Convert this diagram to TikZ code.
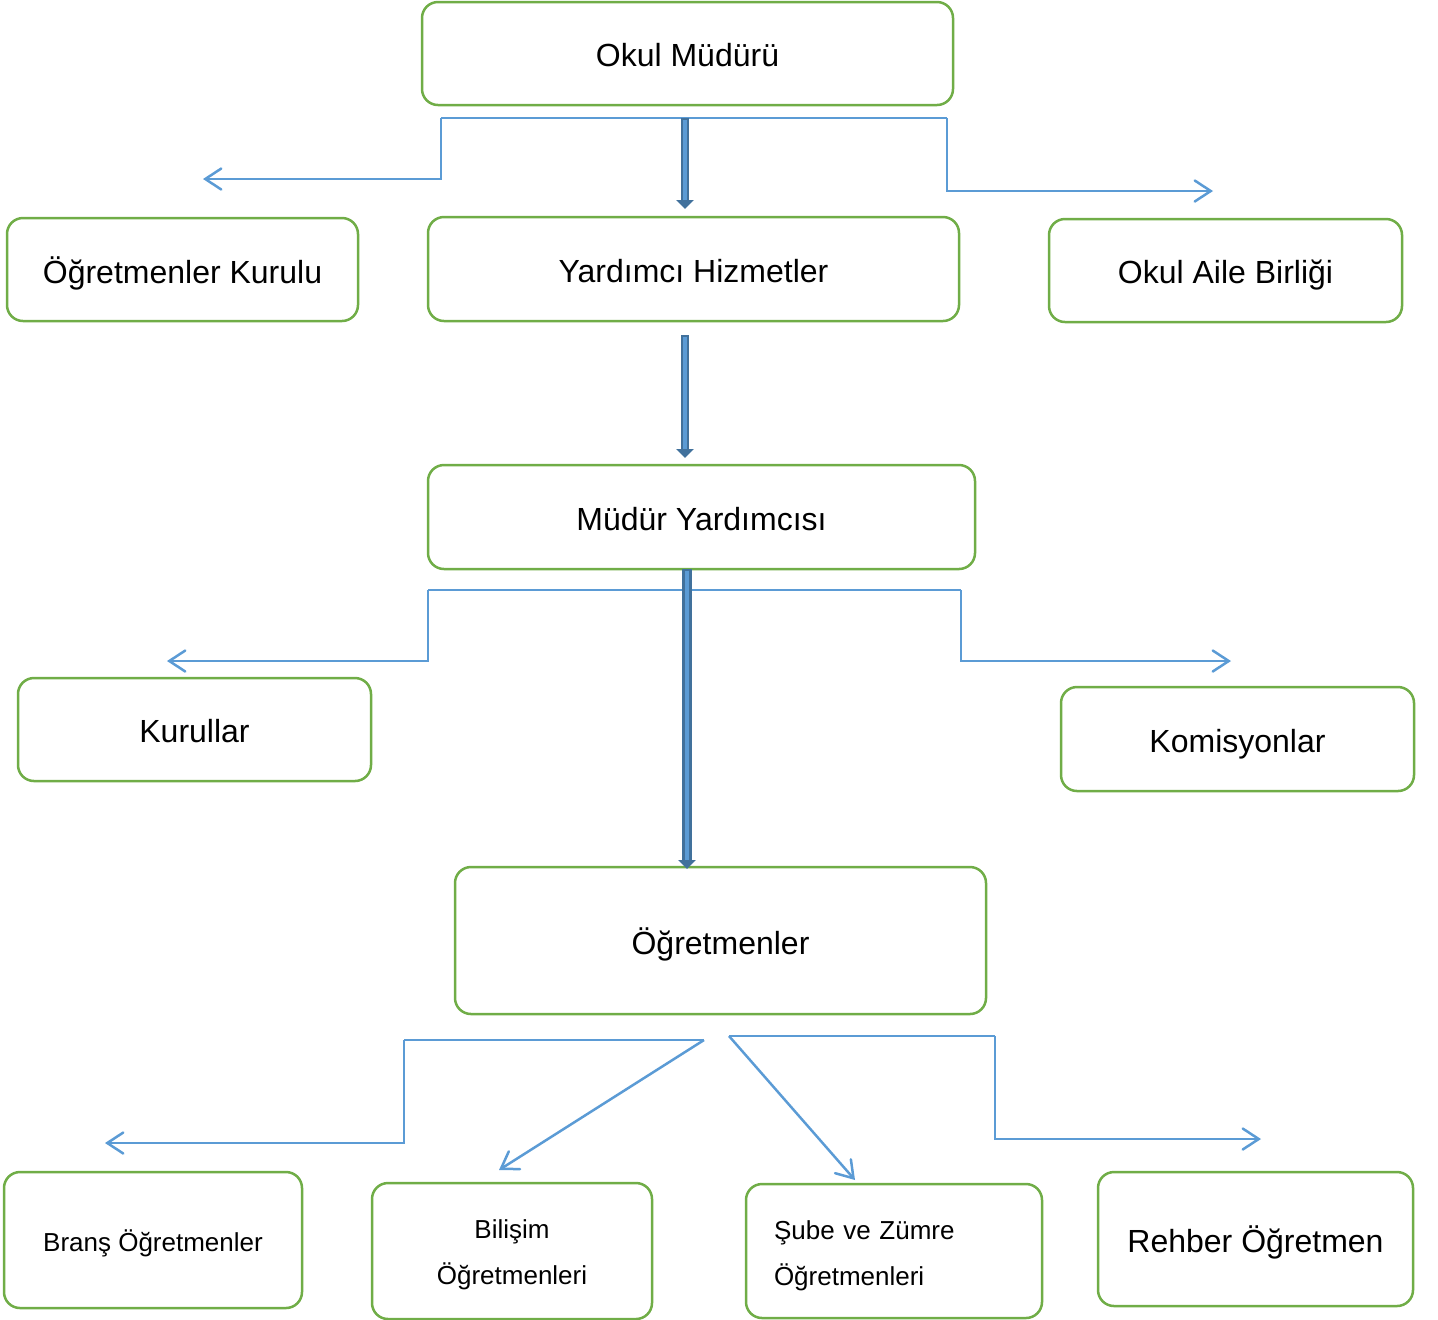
\documentclass[tikz,border=0pt]{standalone}
\usepackage{fontspec}
\setmainfont{Liberation Sans}
\usetikzlibrary{arrows.meta}
\definecolor{boxgreen}{HTML}{70AD47}
\definecolor{connblue}{HTML}{5B9BD5}
\definecolor{dkblue}{HTML}{41719C}
\definecolor{fillblue}{HTML}{5B9BD5}
\tikzset{
  box/.style={draw=boxgreen, line width=1.25pt, rounded corners=8pt, align=center, inner sep=0pt, font=\fontsize{16}{20}\selectfont},
  smallbox/.style={box, font=\fontsize{13}{23}\selectfont},
  conn/.style={draw=connblue, line width=1.25pt},
  connarrow/.style={conn, -{Straight Barb[length=8pt,width=10.5pt,line cap=round]}},
  bigarrowout/.style={draw=dkblue, -{Triangle[length=4.5pt,width=8.5pt]}},
  bigarrowin/.style={draw=fillblue}
}
\newcommand{\bigarrow}[3]{%
  \draw[bigarrowout, line width=#3] (#1) -- (#2);
  \draw[bigarrowin, line width=0.45*#3, shorten <=0.8pt, shorten >=4.5pt] (#1) -- (#2);
}
\newcommand{\dn}[2]{\raisebox{-#1}[\height][\depth]{#2}}
\begin{document}
\begin{tikzpicture}[x=0.5pt,y=-0.5pt]
\useasboundingbox (0,0) rectangle (1438,1319);
% boxes
\node[box, minimum width=265.5pt, minimum height=51.5pt] (m) at (687.5,53.5) {\dn{1pt}{Okul Müdürü}};
\node[box, minimum width=175.5pt, minimum height=51.5pt] (ok) at (182.5,269.5) {\dn{2pt}{Öğretmenler Kurulu}};
\node[box, minimum width=265.5pt, minimum height=52pt] (yh) at (693.5,269) {\dn{1pt}{Yardımcı Hizmetler}};
\node[box, minimum width=176.5pt, minimum height=51.5pt] (oab) at (1225.5,270.5) {\dn{2.5pt}{Okul Aile Birliği}};
\node[box, minimum width=273.5pt, minimum height=52pt] (my) at (701.5,517) {\dn{1pt}{Müdür Yardımcısı}};
\node[box, minimum width=176.5pt, minimum height=51.5pt] (kur) at (194.5,729.5) {\dn{1pt}{Kurullar}};
\node[box, minimum width=176.5pt, minimum height=52pt] (kom) at (1237.5,739) {\dn{2.5pt}{Komisyonlar}};
\node[box, minimum width=265.5pt, minimum height=73.5pt] (ogr) at (720.5,940.5) {\dn{2pt}{Öğretmenler}};
\node[smallbox, minimum width=149pt, minimum height=68pt] (br) at (153,1240) {\dn{1.5pt}{Branş Öğretmenler}};
\node[smallbox, minimum width=140pt, minimum height=68pt] (bil) at (512,1251) {\dn{0.5pt}{\begin{tabular}{@{}c@{}}Bilişim\\Öğretmenleri\end{tabular}}};
\node[smallbox, align=left, text width=120pt, inner xsep=14pt, minimum height=67pt] (sube) at (894,1251) {\dn{1pt}{\begin{tabular}{@{}l@{}}Şube ve Zümre\\Öğretmenleri\end{tabular}}};
\node[box, minimum width=157.5pt, minimum height=67pt] (reh) at (1255.5,1239) {\dn{1.5pt}{Rehber Öğretmen}};

% connector coordinates
\coordinate (b1l) at (441,118);
\coordinate (b1r) at (947,118);
\coordinate (t1l) at (203,179);
\coordinate (t1r) at (1213,191);
\coordinate (s1) at (685,118);
\coordinate (e1) at (685,209);
\coordinate (s2) at (685,335);
\coordinate (e2) at (685,458);
\coordinate (b2l) at (428,590);
\coordinate (b2r) at (961,590);
\coordinate (t2l) at (167,661);
\coordinate (t2r) at (1231,661);
\coordinate (s3) at (687,569);
\coordinate (e3) at (687,869);
\coordinate (b3l) at (704,1040);
\coordinate (c3l) at (404,1040);
\coordinate (t3l) at (105,1143);
\coordinate (d3l) at (499,1170);
\coordinate (b3r) at (729,1036);
\coordinate (c3r) at (995,1036);
\coordinate (t3r) at (1261,1139);
\coordinate (d3r) at (855,1180);

% thin connectors
\draw[conn] (b1l) -- (b1r);
\draw[connarrow] (b1l) |- (t1l);
\draw[connarrow] (b1r) |- (t1r);
\draw[conn] (b2l) -- (b2r);
\draw[connarrow] (b2l) |- (t2l);
\draw[connarrow] (b2r) |- (t2r);
\draw[conn] (b3l) -- (c3l);
\draw[connarrow] (c3l) |- (t3l);
\draw[connarrow] (b3l) -- (d3l);
\draw[conn] (b3r) -- (c3r);
\draw[connarrow] (c3r) |- (t3r);
\draw[connarrow] (b3r) -- (d3r);

% thick arrows
\bigarrow{s1}{e1}{4pt}
\bigarrow{s2}{e2}{4pt}
\bigarrow{s3}{e3}{5pt}
\end{tikzpicture}
\end{document}
